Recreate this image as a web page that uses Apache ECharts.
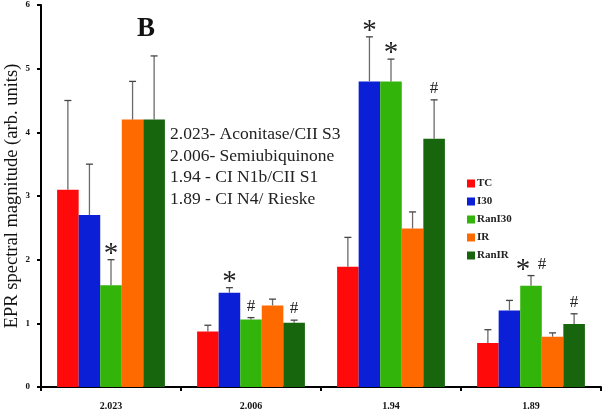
<!DOCTYPE html>
<html><head><meta charset="utf-8">
<script src="https://cdn.jsdelivr.net/npm/echarts@6/dist/echarts.min.js"></script>
<style>html,body{margin:0;padding:0;background:#fff}#c{width:602px;height:411px}</style>
</head><body><div id="c"></div>
<script>
const categories = ['2.023', '2.006', '1.94', '1.89'];
const seriesNames = ['TC', 'I30', 'RanI30', 'IR', 'RanIR'];
const colors = ['#ff0a0a', '#0a1fd6', '#33b40a', '#ff6a00', '#17650d'];
const tcValues = [3.1, 0.87, 1.89, 0.69];
const i30Values = [2.7, 1.48, 4.8, 1.2];
const ranI30Values = [1.6, 1.06, 4.8, 1.59];
const irValues = [4.2, 1.28, 2.49, 0.79];
const ranIRValues = [4.2, 1.01, 3.9, 0.99];
const tcErrTop = [4.5, 0.97, 2.35, 0.9];
const i30ErrTop = [3.5, 1.56, 5.5, 1.36];
const ranI30ErrTop = [2.0, 1.09, 5.15, 1.75];
const irErrTop = [4.8, 1.38, 2.75, 0.85];
const ranIRErrTop = [5.2, 1.05, 4.51, 1.15];
// significance marks: [categoryIndex, seriesIndex, text]
const sigMarks = [
  [0, 2, '*'], [1, 1, '*'], [1, 2, '#'], [1, 4, '#'],
  [2, 1, '*'], [2, 2, '*'], [2, 4, '#'],
  [3, 2, '* #'], [3, 4, '#']
];
const yTicks = [0, 1, 2, 3, 4, 5, 6];
const noteLines = ['2.023- Aconitase/CII S3', '2.006- Semiubiquinone', '1.94 - CI N1b/CII S1', '1.89 - CI N4/ Rieske'];

const values = [tcValues, i30Values, ranI30Values, irValues, ranIRValues];
const errTops = [tcErrTop, i30ErrTop, ranI30ErrTop, irErrTop, ranIRErrTop];
const GAP = 0.23;
const serif = 'Liberation Serif';

const chart = echarts.init(document.getElementById('c'), null, {renderer: 'canvas'});

function barOffset(api, s) {
  const band = api.size([1, 0])[0];
  const bw = band * (1 - GAP) / 5;
  return {bw: bw, off: (s - 2) * bw};
}

const series = [];
seriesNames.forEach((name, s) => {
  series.push({
    name: name, type: 'bar', data: values[s],
    barGap: '0%', barCategoryGap: (GAP * 100) + '%',
    itemStyle: {color: colors[s]}, z: 2
  });
});
seriesNames.forEach((name, s) => {
  series.push({
    type: 'custom', name: name + ' err', silent: true, z: 3,
    data: values[s].map((v, i) => [i, v, errTops[s][i]]),
    renderItem: function (params, api) {
      const i = api.value(0);
      const {bw, off} = barOffset(api, s);
      const base = api.coord([i, api.value(1)]);
      const top = api.coord([i, api.value(2)]);
      const x = base[0] + off;
      return {type: 'group', children: [
        {type: 'line', shape: {x1: x, y1: base[1], x2: x, y2: top[1]}, style: {stroke: '#6a6a6a', lineWidth: 1.3}},
        {type: 'line', shape: {x1: x - 3.5, y1: top[1], x2: x + 3.5, y2: top[1]}, style: {stroke: '#444', lineWidth: 1.3}}
      ]};
    }
  });
});
series.push({
  type: 'custom', name: 'marks', silent: true, z: 4,
  data: sigMarks.map(m => [m[0], errTops[m[1]][m[0]], m[1], m[2]]),
  renderItem: function (params, api) {
    const i = api.value(0);
    const s = api.value(2);
    const txt = sigMarks[params.dataIndex][2];
    const {bw, off} = barOffset(api, s);
    const p = api.coord([i, api.value(1)]);
    const x = p[0] + off;
    const children = [];
    const parts = txt === '* #' ? [['*', -8], ['#', 11]] : [[txt, 0]];
    parts.forEach(([t, dx]) => {
      const star = t === '*';
      children.push({type: 'text', style: {
        text: t, x: x + dx, y: p[1] - (star ? -9 : 3),
        align: 'center', verticalAlign: 'bottom',
        font: (star ? '29px ' : '17px ') + serif, fill: '#222'
      }});
    });
    return {type: 'group', children: children};
  }
});

chart.setOption({
  animation: false,
  grid: {left: 41, right: 1, top: 5, bottom: 24, containLabel: false, outerBoundsMode: 'none'},
  legend: {
    data: seriesNames, orient: 'vertical', left: 462, top: 173,
    itemWidth: 8, itemHeight: 8, itemGap: 7, icon: 'rect',
    textStyle: {fontFamily: serif, fontWeight: 'bold', fontSize: 11, color: '#222', padding: [0, 0, 0, -3]}
  },
  xAxis: {
    type: 'category', data: categories,
    axisLine: {lineStyle: {color: '#000', width: 2}},
    axisTick: {show: true, alignWithLabel: false, length: 4, lineStyle: {color: '#000', width: 2}},
    axisLabel: {fontFamily: serif, fontWeight: 'bold', fontSize: 10, color: '#111', margin: 14}
  },
  yAxis: {
    type: 'value', min: 0, max: 6, interval: 1,
    name: 'EPR spectral magnitude (arb. units)', nameLocation: 'middle', nameGap: 19,
    nameMoveOverlap: false,
    nameTextStyle: {fontFamily: serif, fontSize: 18.5, color: '#111'},
    axisLine: {show: true, lineStyle: {color: '#000', width: 2}},
    axisTick: {show: true, length: 4, lineStyle: {color: '#000', width: 2}},
    splitLine: {show: false},
    axisLabel: {fontFamily: serif, fontWeight: 'bold', fontSize: 9, color: '#111', margin: 11,
      formatter: v => yTicks.includes(v) ? String(v) : ''}
  },
  graphic: [
    {type: 'text', left: 137, top: 16, style: {text: 'B', font: 'bold 27px ' + serif, fill: '#111'}},
    {type: 'text', left: 170, top: 124, style: {text: noteLines.join('\n'), font: '17.5px ' + serif, lineHeight: 21.5, fill: '#222'}}
  ],
  series: series
});
</script></body></html>
